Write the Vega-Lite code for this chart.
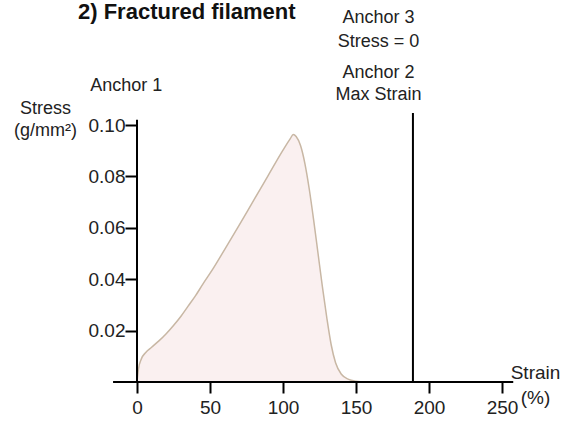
{
  "$schema": "https://vega.github.io/schema/vega-lite/v6.json",
  "width": 365,
  "height": 257,
  "autosize": {"type": "none"},
  "padding": {"left": 137, "top": 125, "right": 66, "bottom": 39},
  "background": "white",
  "config": {
    "font": "Liberation Sans",
    "view": {"stroke": null},
    "axis": {"grid": false, "domain": false}
  },
  "title": {
    "text": "2) Fractured filament",
    "anchor": "start",
    "frame": "group",
    "font": "Liberation Sans",
    "fontSize": 22,
    "fontWeight": "bold",
    "color": "#111111",
    "baseline": "alphabetic",
    "offset": 0,
    "dx": -59,
    "dy": 32
  },
  "datasets": {
    "curve": [
      {"strain": 0, "stress": 0},
      {"strain": 1, "stress": 0.005},
      {"strain": 3, "stress": 0.009},
      {"strain": 6, "stress": 0.0115},
      {"strain": 10, "stress": 0.0135},
      {"strain": 15, "stress": 0.016},
      {"strain": 20, "stress": 0.0188},
      {"strain": 25, "stress": 0.022},
      {"strain": 30, "stress": 0.0255},
      {"strain": 35, "stress": 0.0295},
      {"strain": 40, "stress": 0.0335},
      {"strain": 45, "stress": 0.038},
      {"strain": 52, "stress": 0.044},
      {"strain": 60, "stress": 0.0515},
      {"strain": 70, "stress": 0.061},
      {"strain": 80, "stress": 0.0708},
      {"strain": 90, "stress": 0.0805},
      {"strain": 100, "stress": 0.0902},
      {"strain": 105, "stress": 0.0947},
      {"strain": 107, "stress": 0.0963},
      {"strain": 109, "stress": 0.0955},
      {"strain": 112, "stress": 0.092},
      {"strain": 115, "stress": 0.085},
      {"strain": 118, "stress": 0.075},
      {"strain": 121, "stress": 0.063},
      {"strain": 124, "stress": 0.05},
      {"strain": 127, "stress": 0.037},
      {"strain": 130, "stress": 0.025},
      {"strain": 133, "stress": 0.0145},
      {"strain": 136, "stress": 0.0075},
      {"strain": 140, "stress": 0.003},
      {"strain": 145, "stress": 0.001},
      {"strain": 150, "stress": 0.0003},
      {"strain": 155, "stress": 0},
      {"strain": 189, "stress": 0}
    ],
    "single": [{}]
  },
  "layer": [
    {
      "data": {"name": "curve"},
      "mark": {
        "type": "area",
        "interpolate": "monotone",
        "color": "#f8eaea",
        "line": {"color": "#c8b7a4", "strokeWidth": 1.5}
      },
      "encoding": {
        "x": {
          "field": "strain",
          "type": "quantitative",
          "scale": {"domain": [0, 250], "nice": false},
          "axis": {
            "values": [0, 50, 100, 150, 200, 250],
            "tickSize": 11,
            "tickWidth": 2,
            "tickColor": "black",
            "labelFontSize": 19,
            "labelColor": "#222222",
            "labelPadding": 5,
            "labelFlush": false,
            "labelOverlap": false,
            "title": ["Strain", "(%)"],
            "titleFontSize": 19,
            "titleFontWeight": "normal",
            "titleColor": "#222222",
            "titleAlign": "center",
            "titleBaseline": "alphabetic",
            "titleAngle": 0,
            "titleX": 398,
            "titleY": -4,
            "titleLineHeight": 25
          }
        },
        "y": {
          "field": "stress",
          "type": "quantitative",
          "scale": {"domain": [0, 0.1], "nice": false},
          "axis": {
            "values": [0.02, 0.04, 0.06, 0.08, 0.1],
            "format": ".2f",
            "tickSize": 12,
            "tickWidth": 2,
            "tickColor": "black",
            "labelFontSize": 19,
            "labelColor": "#222222",
            "labelPadding": 0,
            "labelFlush": false,
            "labelOverlap": false,
            "title": ["Stress", "(g/mm²)"],
            "titleFontSize": 18,
            "titleFontWeight": "normal",
            "titleColor": "#222222",
            "titleAngle": 0,
            "titleAlign": "center",
            "titleBaseline": "alphabetic",
            "titleX": -92,
            "titleY": -12,
            "titleLineHeight": 22
          }
        }
      }
    },
    {
      "data": {"name": "single"},
      "mark": {"type": "rule", "color": "black", "strokeWidth": 2},
      "encoding": {"x": {"datum": -16.4}, "x2": {"datum": 257.7}, "y": {"datum": 0}}
    },
    {
      "data": {"name": "single"},
      "mark": {"type": "rule", "color": "black", "strokeWidth": 2},
      "encoding": {"x": {"datum": 0}, "y": {"datum": 0}, "y2": {"datum": 0.102}}
    },
    {
      "data": {"name": "single"},
      "mark": {"type": "rule", "color": "black", "strokeWidth": 2},
      "encoding": {"x": {"datum": 189}, "y": {"datum": 0}, "y2": {"datum": 0.1047}}
    },
    {
      "data": {"name": "single"},
      "mark": {"type": "text", "text": "Anchor 1", "fontSize": 18, "color": "#222222", "align": "center", "baseline": "alphabetic"},
      "encoding": {"x": {"datum": -7.3}, "y": {"datum": 0.1133}}
    },
    {
      "data": {"name": "single"},
      "mark": {"type": "text", "text": ["Anchor 2", "Max Strain"], "fontSize": 18, "lineHeight": 22, "color": "#222222", "align": "center", "baseline": "alphabetic"},
      "encoding": {"x": {"datum": 165.4}, "y": {"datum": 0.1183}}
    },
    {
      "data": {"name": "single"},
      "mark": {"type": "text", "text": ["Anchor 3", "Stress = 0"], "fontSize": 18, "lineHeight": 23.4, "color": "#222222", "align": "center", "baseline": "alphabetic"},
      "encoding": {"x": {"datum": 165.4}, "y": {"datum": 0.1396}}
    }
  ]
}
